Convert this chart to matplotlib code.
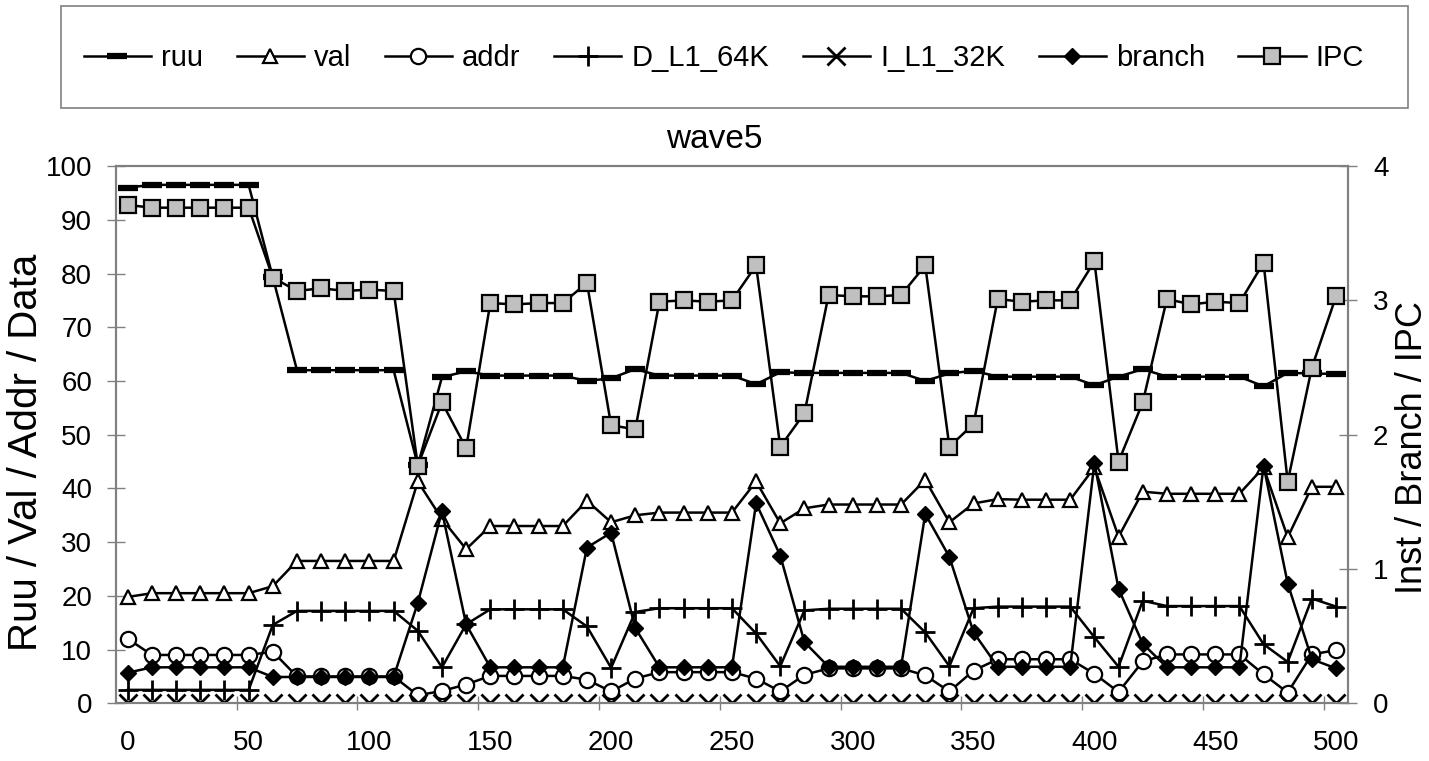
import matplotlib
matplotlib.use("Agg")
import matplotlib.pyplot as plt
from matplotlib.patches import Rectangle
import numpy as np

plt.rcParams['font.family'] = ['Liberation Sans', 'DejaVu Sans']

x = list(range(0, 501, 10))

ruu = [96.0, 96.5, 96.5, 96.5, 96.5, 96.5, 79.3, 62.0, 62.0, 62.0, 62.0, 62.0,
       44.3, 60.7, 61.8, 61.0, 61.0, 61.0, 61.0, 60.0, 60.5, 62.2,
       61.0, 61.0, 61.0, 61.0, 59.4, 61.6, 61.5, 61.5, 61.5, 61.5, 61.5,
       60.0, 61.4, 61.9, 60.8, 60.8, 60.8, 60.8, 59.2, 60.8, 62.2,
       60.8, 60.8, 60.8, 60.8, 59.0, 61.5, 61.4, 61.3]

val = [19.8, 20.5, 20.5, 20.5, 20.5, 20.5, 21.8, 26.5, 26.5, 26.5, 26.5, 26.5,
       41.3, 34.3, 28.7, 33.0, 33.0, 33.0, 33.0, 37.7, 33.7, 35.0,
       35.5, 35.5, 35.5, 35.5, 41.3, 33.5, 36.3, 37.0, 37.0, 37.0, 37.0,
       41.6, 33.7, 37.2, 38.0, 37.9, 37.9, 37.9, 43.9, 31.0, 39.4,
       39.0, 39.0, 39.0, 39.0, 43.9, 30.9, 40.3, 40.3]

addr = [12.0, 9.0, 9.0, 9.0, 9.0, 9.0, 9.6, 5.0, 5.0, 5.0, 5.0, 5.0,
        1.5, 2.3, 3.5, 5.1, 5.1, 5.1, 5.1, 4.4, 2.2, 4.6,
        5.8, 5.8, 5.8, 5.8, 4.6, 2.2, 5.3, 6.5, 6.5, 6.5, 6.5,
        5.2, 2.2, 6.1, 8.2, 8.2, 8.2, 8.2, 5.5, 2.1, 7.8,
        9.1, 9.1, 9.1, 9.1, 5.4, 2.0, 9.1, 9.9]

d_l1_64k = [2.5, 2.5, 2.5, 2.5, 2.5, 2.5, 14.6, 17.2, 17.2, 17.2, 17.2, 17.2,
            13.5, 6.7, 14.7, 17.5, 17.5, 17.5, 17.5, 14.3, 6.6, 17.0,
            17.7, 17.7, 17.7, 17.7, 13.0, 6.9, 17.3, 17.6, 17.6, 17.6, 17.6,
            13.2, 6.9, 17.7, 18.0, 18.0, 18.0, 18.0, 12.3, 6.8, 19.1,
            18.1, 18.1, 18.1, 18.1, 11.0, 7.7, 19.5, 18.0]

i_l1_32k = [0.0] * 51

branch = [0.228, 0.268, 0.268, 0.268, 0.268, 0.268, 0.196, 0.196, 0.196, 0.196, 0.196, 0.196,
          0.748, 1.43, 0.588, 0.268, 0.268, 0.268, 0.268, 1.16, 1.27, 0.56,
          0.268, 0.268, 0.268, 0.268, 1.49, 1.10, 0.456, 0.272, 0.272, 0.272, 0.272,
          1.41, 1.09, 0.528, 0.272, 0.272, 0.272, 0.272, 1.79, 0.852, 0.444,
          0.268, 0.268, 0.268, 0.268, 1.77, 0.892, 0.328, 0.26]

ipc = [3.71, 3.69, 3.69, 3.69, 3.69, 3.69, 3.17, 3.07, 3.09, 3.07, 3.08, 3.07,
       1.77, 2.24, 1.90, 2.98, 2.97, 2.98, 2.98, 3.13, 2.07, 2.04,
       2.99, 3.00, 2.99, 3.00, 3.26, 1.91, 2.16, 3.04, 3.03, 3.03, 3.04,
       3.26, 1.91, 2.08, 3.01, 2.99, 3.00, 3.00, 3.29, 1.80, 2.24,
       3.01, 2.97, 2.99, 2.98, 3.28, 1.65, 2.50, 3.03]

left_ticks = list(range(0, 101, 10))
right_ticks = [0, 1, 2, 3, 4]
x_labels = list(range(0, 501, 50))

fig = plt.figure(figsize=(14.29, 7.61), dpi=100)
ax = fig.add_axes([0.081, 0.0758, 0.8624, 0.7060])
ax2 = ax.twinx()

lw = 1.8
mew = 1.6
h_ruu, = ax.plot(x, ruu, color='black', lw=lw, marker='_', ms=14, mew=4.5, label='ruu')
h_val, = ax.plot(x, val, color='black', lw=lw, marker='^', ms=10.5, mfc='white', mec='black', mew=mew, label='val')
h_addr, = ax.plot(x, addr, color='black', lw=lw, marker='o', ms=11, mfc='white', mec='black', mew=mew, label='addr')
h_d, = ax.plot(x, d_l1_64k, color='black', lw=lw, marker='+', ms=14, mew=2, label='D_L1_64K')
h_i, = ax2.plot(x, i_l1_32k, color='black', lw=lw, marker='x', ms=12.5, mew=2, label='I_L1_32K')
h_b, = ax2.plot(x, branch, color='black', lw=lw, marker='D', ms=8, mfc='black', mec='black', mew=1, label='branch')
h_ipc, = ax2.plot(x, ipc, color='black', lw=lw, marker='s', ms=11.5, mfc='#c0c0c0', mec='black', mew=mew, label='IPC')

ax.set_xlim(-5, 505)
ax.set_ylim(0, 100)
ax2.set_ylim(0, 4)

gray = '#808080'
for a in (ax, ax2):
    for s in a.spines.values():
        s.set_color(gray)
        s.set_linewidth(1.5)

ax.set_yticks(left_ticks)
ax.tick_params(axis='y', direction='inout', length=13, width=1, color=gray, pad=10.5, labelsize=20)
ax2.set_yticks(right_ticks)
ax2.tick_params(axis='y', direction='inout', length=13, width=1, color=gray, pad=11.5, labelsize=20)

ax.set_xticks(x_labels)
ax.set_xticklabels([str(v) for v in x_labels])
ax.tick_params(axis='x', which='major', length=0, pad=19, labelsize=20)
ax.set_xticks([45 + 50 * k for k in range(10)], minor=True)
ax.tick_params(axis='x', which='minor', direction='inout', length=10, width=1, color=gray)

fig.text(714 / 1429, 1 - 139 / 761, 'wave5', ha='center', va='center', fontsize=24)
fig.text(26 / 1429, 1 - 452 / 761, 'Ruu / Val / Addr / Data', rotation=90, ha='center', va='center', fontsize=29)
fig.text(1413 / 1429, 1 - 448 / 761, 'Inst / Branch / IPC', rotation=90, ha='center', va='center', fontsize=26)

# legend frame
fig.patches.append(Rectangle((61 / 1429, 1 - 108 / 761), 1347 / 1429, 102 / 761,
                             transform=fig.transFigure, fill=False, edgecolor=gray, lw=1.2))
leg = fig.legend(handles=[h_ruu, h_val, h_addr, h_d, h_i, h_b, h_ipc], loc='center',
                 bbox_to_anchor=(724 / 1429, 1 - 58 / 761), ncol=7, frameon=False,
                 fontsize=21, handlelength=2.3, handletextpad=0.35, columnspacing=1.15,
                 markerscale=1.0)

fig.savefig('out.png', dpi=100)
